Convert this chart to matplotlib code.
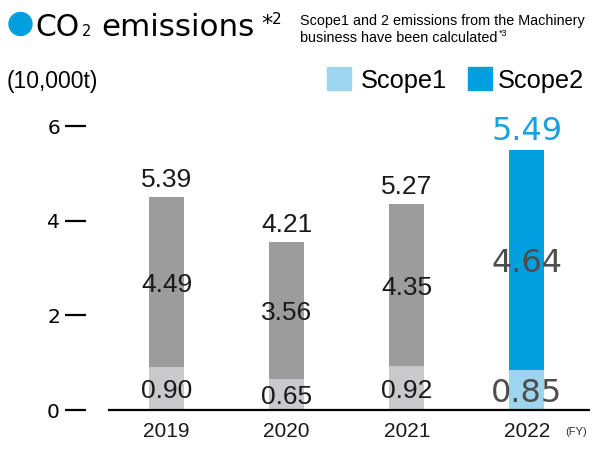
import matplotlib
matplotlib.use("Agg")
import matplotlib.pyplot as plt
from matplotlib.patches import Ellipse, Rectangle
import numpy as np

plt.rcParams['font.family'] = ['Liberation Sans', 'DejaVu Sans']

# ---- data ----
years = ['2019', '2020', '2021', '2022']
scope1 = [0.90, 0.65, 0.92, 0.85]
scope2 = [4.49, 3.56, 4.35, 4.64]
total = [5.39, 4.21, 5.27, 5.49]
highlight = [False, False, False, True]
yticks = [0, 2, 4, 6]

# In the reference, the upper segments of 2019-2021 are drawn up to the Scope2
# value, while 2022 is drawn up to its total.
bar_top = np.where(highlight, total, scope2)

W, H = 600, 455
fig = plt.figure(figsize=(6, 4.55), dpi=100)

def fx(x):
    return x / W

def fy(y):
    return 1 - y / H

PX = 72 / 100  # points per pixel

# axes placement
ax_left, ax_right = 86, 590
ax_bottom, y_per_unit = 410, 47.33
ymax = 6.5
ax_top = ax_bottom - ymax * y_per_unit
ax = fig.add_axes([fx(ax_left), fy(ax_bottom), (ax_right - ax_left) / W,
                   (ax_bottom - ax_top) / H])
x0_px, step_px = 166.5, 120.1
ax.set_xlim((ax_left - x0_px) / step_px, (ax_right - x0_px) / step_px)
ax.set_ylim(0, ymax)
for s in ax.spines.values():
    s.set_visible(False)

x = np.arange(len(years))
bw = 35 / step_px
c_up = ['#009fde' if h else '#9c9c9c' for h in highlight]
c_lo = ['#9dd5ef' if h else '#c9c9cb' for h in highlight]
ax.bar(x, scope1, width=bw, color=c_lo, zorder=2)
ax.bar(x, bar_top - np.array(scope1), bottom=scope1, width=bw, color=c_up, zorder=2)

# baseline
bx0 = (108 - x0_px) / step_px
ax.plot([bx0, ax.get_xlim()[1]], [0, 0], color='black', lw=1.6, zorder=3,
        clip_on=False, solid_capstyle='butt')

ax.set_yticks(yticks)
ax.set_yticklabels([str(t) for t in yticks], family='DejaVu Sans')
ax.tick_params(axis='y', length=21 * PX, width=1.6, pad=5 * PX, labelsize=14.5,
               colors='black')
ax.set_xticks([])

# value labels
for i in range(len(years)):
    if highlight[i]:
        fam, fs, col_tot, col_in = 'DejaVu Sans', 23, '#1a9fe0', '#4d4d4d'
        cap = fs * 0.729 / PX
    else:
        fam, fs, col_tot, col_in = 'Liberation Sans', 19, '#1a1a1a', '#1a1a1a'
        cap = fs * 0.716 / PX
    ax.annotate(f'{total[i]:.2f}', xy=(x[i], bar_top[i]), xytext=(0, 10 * PX),
                textcoords='offset points', ha='center', va='baseline',
                fontsize=fs, family=fam, color=col_tot, zorder=4,
                annotation_clip=False)
    mid_up = (scope1[i] + bar_top[i]) / 2
    ax.annotate(f'{scope2[i]:.2f}', xy=(x[i], mid_up), xytext=(0, -cap / 2 * PX),
                textcoords='offset points', ha='center', va='baseline',
                fontsize=fs, family=fam, color=col_in, zorder=4)
    mid_lo = scope1[i] / 2
    ax.annotate(f'{scope1[i]:.2f}', xy=(x[i], mid_lo), xytext=(0, -cap / 2 * PX),
                textcoords='offset points', ha='center', va='baseline',
                fontsize=fs, family=fam, color=col_in, zorder=4)
    ax.annotate(years[i], xy=(x[i], 0), xytext=(0, -27 * PX),
                textcoords='offset points', ha='center', va='baseline',
                fontsize=15, color='#1a1a1a', annotation_clip=False)

fig.text(fx(565), fy(435), '(FY)', fontsize=8, color='#333333', va='baseline')

# title
fig.add_artist(Ellipse((fx(20.5), fy(24)), 23 / W, 23 / H,
                       transform=fig.transFigure, color='#009fde'))
fig.text(fx(35), fy(36), 'CO', fontsize=21.5, family='DejaVu Sans',
         va='baseline', color='black')
fig.text(fx(82), fy(36), '2', fontsize=10.5, family='DejaVu Sans',
         va='baseline', color='black')
fig.text(fx(101.5), fy(36), 'emissions', fontsize=22.3, family='DejaVu Sans',
         va='baseline', color='black')
fig.text(fx(261), fy(30), '*', fontsize=16, family='DejaVu Sans',
         va='baseline', color='black')
fig.text(fx(272), fy(24), '2', fontsize=11, family='DejaVu Sans',
         va='baseline', color='black')
fig.text(fx(300), fy(25.5), 'Scope1 and 2 emissions from the Machinery',
         fontsize=10.4, va='baseline', color='black')
line2 = fig.text(fx(300), fy(42), 'business have been calculated',
                 fontsize=10.4, va='baseline', color='black')
fig.canvas.draw()
r = line2.get_window_extent(renderer=fig.canvas.get_renderer())
fig.text(r.x1 / W + 1 / W, fy(35.5), '*3', fontsize=6.5, va='baseline',
         color='black')

# unit
fig.text(fx(7), fy(88), '(10,000t)', fontsize=16.5, va='baseline', color='black')

# legend
fig.add_artist(Rectangle((fx(327), fy(90)), 24 / W, 23 / H,
                         transform=fig.transFigure, color='#9dd5ef'))
fig.text(fx(361), fy(88), 'Scope1', fontsize=18.3, va='baseline', color='black')
fig.add_artist(Rectangle((fx(468), fy(90)), 24 / W, 23 / H,
                         transform=fig.transFigure, color='#009fde'))
fig.text(fx(498), fy(88), 'Scope2', fontsize=18.3, va='baseline', color='black')

fig.savefig('out.png', dpi=100)
